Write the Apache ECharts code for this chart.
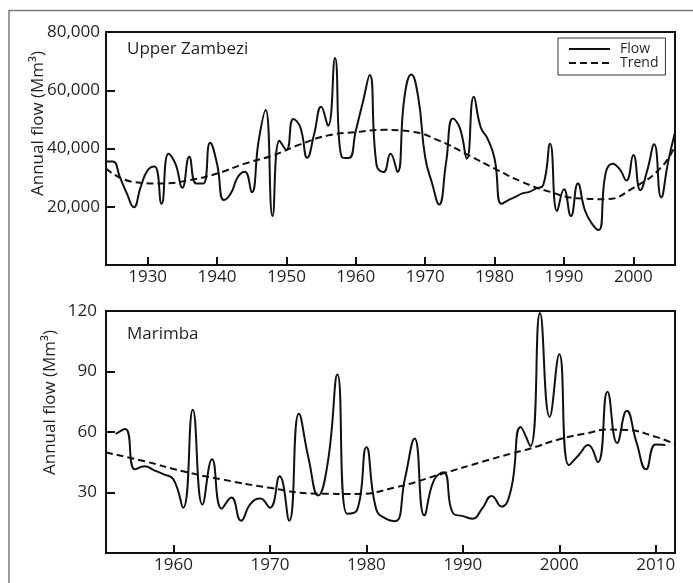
<!DOCTYPE html>
<html>
<head>
<meta charset="utf-8">
<script src="https://cdn.jsdelivr.net/npm/echarts@6.0.0/dist/echarts.min.js"></script>
<style>
  html, body { margin: 0; padding: 0; background: #fff; }
  #chart { width: 693px; height: 583px; }
</style>
</head>
<body>
<div id="chart"></div>
<script>
// ---------- Data ----------
const uzStartYear = 1924;
const uzFlow = [
  35500, 35500, 30200, 24600, 19800, 26800, 32500, 33800, 21000, 38200, // 1924-1933
  34800, 26500, 37200, 28000, 28000, 42000, 34800, 22300, 24600, 30200, // 1934-1943
  32000, 25000, 42700, 53200, 16800, 42700, 39500, 50100, 47300, 36800, // 1944-1953
  45000, 54300, 47800, 71100, 37000, 36700, 46100, 55800, 65200, 34200, // 1954-1963
  31900, 38200, 32000, 57500, 65400, 57500, 37000, 28000, 20800, 35000, // 1964-1973
  50300, 47000, 36500, 57800, 47300, 43300, 36500, 21000, 22300, 23400, // 1974-1983
  24600, 25100, 26300, 27400, 41600, 18500, 26000, 16800, 28000, 18900, // 1984-1993
  14300, 12000, 31500, 34800, 33000, 29000, 37800, 25700, 32500, 41500, // 1994-2003
  23200, 35300, 45600                                                   // 2004-2006
];
const uzTrendYears = [1924, 1928, 1932, 1936, 1940, 1944, 1948, 1952, 1956, 1960, 1964, 1968, 1972, 1976, 1980, 1984, 1988, 1992, 1996, 2000, 2004, 2006];
const uzTrend = [33100, 28500, 28000, 29100, 31400, 34800, 37600, 41400, 44500, 45600, 46400, 45800, 42700, 38000, 33100, 28500, 25100, 22900, 22600, 26500, 33500, 41000];
const uzXTicks = [1930, 1940, 1950, 1960, 1970, 1980, 1990, 2000];

const maStartYear = 1954;
const maFlow = [
  59, 61.5, 41.5, 43, 41, 39, 36.5, 22.5, 71, 24,          // 1954-1963
  46.5, 22, 27.5, 16, 24.5, 27, 22.5, 38, 16, 69,          // 1964-1973
  47, 28.5, 45, 88.5, 19.5, 21, 52.5, 22, 17, 15.8,        // 1974-1983
  37, 56.8, 18.7, 36, 40, 19.6, 18.3, 17, 22, 28.3,        // 1984-1993
  23, 31.5, 62.5, 53, 119, 67.5, 98.5, 43.5, 48.5, 53.5,   // 1994-2003
  45, 80, 54.5, 70.5, 55, 41.5, 53.8, 53.6                 // 2004-2011
];
const maTrendYears = [1953, 1957, 1961, 1965, 1970, 1975, 1979, 1983, 1988, 1992, 1995, 1997, 2000, 2003, 2005, 2007, 2010, 2012];
const maTrend = [49.8, 45.5, 40.5, 36.5, 32.3, 29.4, 29.3, 32.5, 39.5, 45.2, 49.3, 51.8, 56.4, 59.5, 61.2, 61, 57.6, 54];
const maXTicks = [1960, 1970, 1980, 1990, 2000, 2010];

// ---------- Build ----------
const pairs = (start, vals) => vals.map((v, i) => [start + i, v]);
const zip = (xs, ys) => xs.map((x, i) => [x, ys[i]]);

const FONT = 'Open Sans';
const TXT = '#231f20';

function xAxis(gridIndex, min, max, ticks) {
  return {
    type: 'value', gridIndex, min, max,
    axisLine: { show: false },
    axisTick: { show: true, inside: true, length: 8, customValues: ticks, lineStyle: { color: '#111', width: 2 } },
    axisLabel: { customValues: ticks, margin: 4, fontFamily: FONT, fontSize: 17, color: TXT, formatter: v => String(v) },
    splitLine: { show: false }
  };
}
function yAxis(gridIndex, max, interval, fmt, margin) {
  return {
    type: 'value', gridIndex, min: 0, max, interval,
    axisLine: { show: false },
    axisTick: { show: true, inside: true, length: 9, lineStyle: { color: '#111', width: 2 } },
    axisLabel: { margin, fontFamily: FONT, fontSize: 17, color: TXT, formatter: fmt },
    splitLine: { show: false }
  };
}

const flowStyle = { color: '#111', width: 2 };
const trendStyle = { color: '#111', width: 2, type: [7, 4] };

const option = {
  animation: false,
  backgroundColor: '#fff',
  grid: [
    { left: 106, top: 32, width: 569, height: 233, show: true, borderColor: '#111', borderWidth: 2 },
    { left: 106, top: 311, width: 569, height: 242, show: true, borderColor: '#111', borderWidth: 2 }
  ],
  xAxis: [
    xAxis(0, 1924, 2006, uzXTicks),
    xAxis(1, 1953, 2012, maXTicks)
  ],
  yAxis: [
    yAxis(0, 80000, 20000, v => v === 0 ? '' : v.toLocaleString('en-US'), 6),
    yAxis(1, 120, 30, v => v === 0 ? '' : String(v), 9)
  ],
  legend: {
    orient: 'vertical',
    left: 558, top: 38,
    data: ['Flow', 'Trend'],
    borderColor: '#333', borderWidth: 1,
    padding: [4, 7, 5, 10],
    itemGap: 0,
    itemWidth: 41, itemHeight: 2,
    itemStyle: { color: 'rgba(0,0,0,0)', borderWidth: 0, opacity: 0 },
    lineStyle: { opacity: 1 },
    textStyle: { fontFamily: FONT, fontSize: 14, color: TXT, lineHeight: 13, padding: [0, 0, 0, 5] },
    selectedMode: false
  },
  graphic: [
    { type: 'rect', shape: { x: 9, y: 10.5, width: 900, height: 900 }, style: { fill: 'none', stroke: '#7a7a7a', lineWidth: 1.5 }, silent: true },
    { type: 'text', x: 127, y: 41, style: { text: 'Upper Zambezi', font: '17px "Open Sans"', fill: TXT } },
    { type: 'text', x: 127, y: 326, style: { text: 'Marimba', font: '17px "Open Sans"', fill: TXT } },
    { type: 'text', x: 38, y: 123.5, rotation: Math.PI / 2, style: { text: 'Annual flow (Mm³)', font: '17px "Open Sans"', fill: TXT, align: 'center', verticalAlign: 'middle' } },
    { type: 'text', x: 50, y: 402.5, rotation: Math.PI / 2, style: { text: 'Annual flow (Mm³)', font: '17px "Open Sans"', fill: TXT, align: 'center', verticalAlign: 'middle' } }
  ],
  series: [
    { name: 'Trend', type: 'line', xAxisIndex: 0, yAxisIndex: 0, data: zip(uzTrendYears, uzTrend), smooth: true, symbol: 'none', lineStyle: trendStyle, itemStyle: { color: '#111' }, z: 2 },
    { name: 'Flow', type: 'line', xAxisIndex: 0, yAxisIndex: 0, data: pairs(uzStartYear, uzFlow), smooth: true, symbol: 'none', lineStyle: flowStyle, itemStyle: { color: '#111' }, z: 3 },
    { name: 'Trend', type: 'line', xAxisIndex: 1, yAxisIndex: 1, data: zip(maTrendYears, maTrend), smooth: true, symbol: 'none', lineStyle: trendStyle, itemStyle: { color: '#111' }, z: 2 },
    { name: 'Flow', type: 'line', xAxisIndex: 1, yAxisIndex: 1, data: pairs(maStartYear, maFlow), smooth: true, symbol: 'none', lineStyle: flowStyle, itemStyle: { color: '#111' }, z: 3 }
  ]
};

const chart = echarts.init(document.getElementById('chart'), null, { renderer: 'canvas' });
chart.setOption(option);
</script>
</body>
</html>
